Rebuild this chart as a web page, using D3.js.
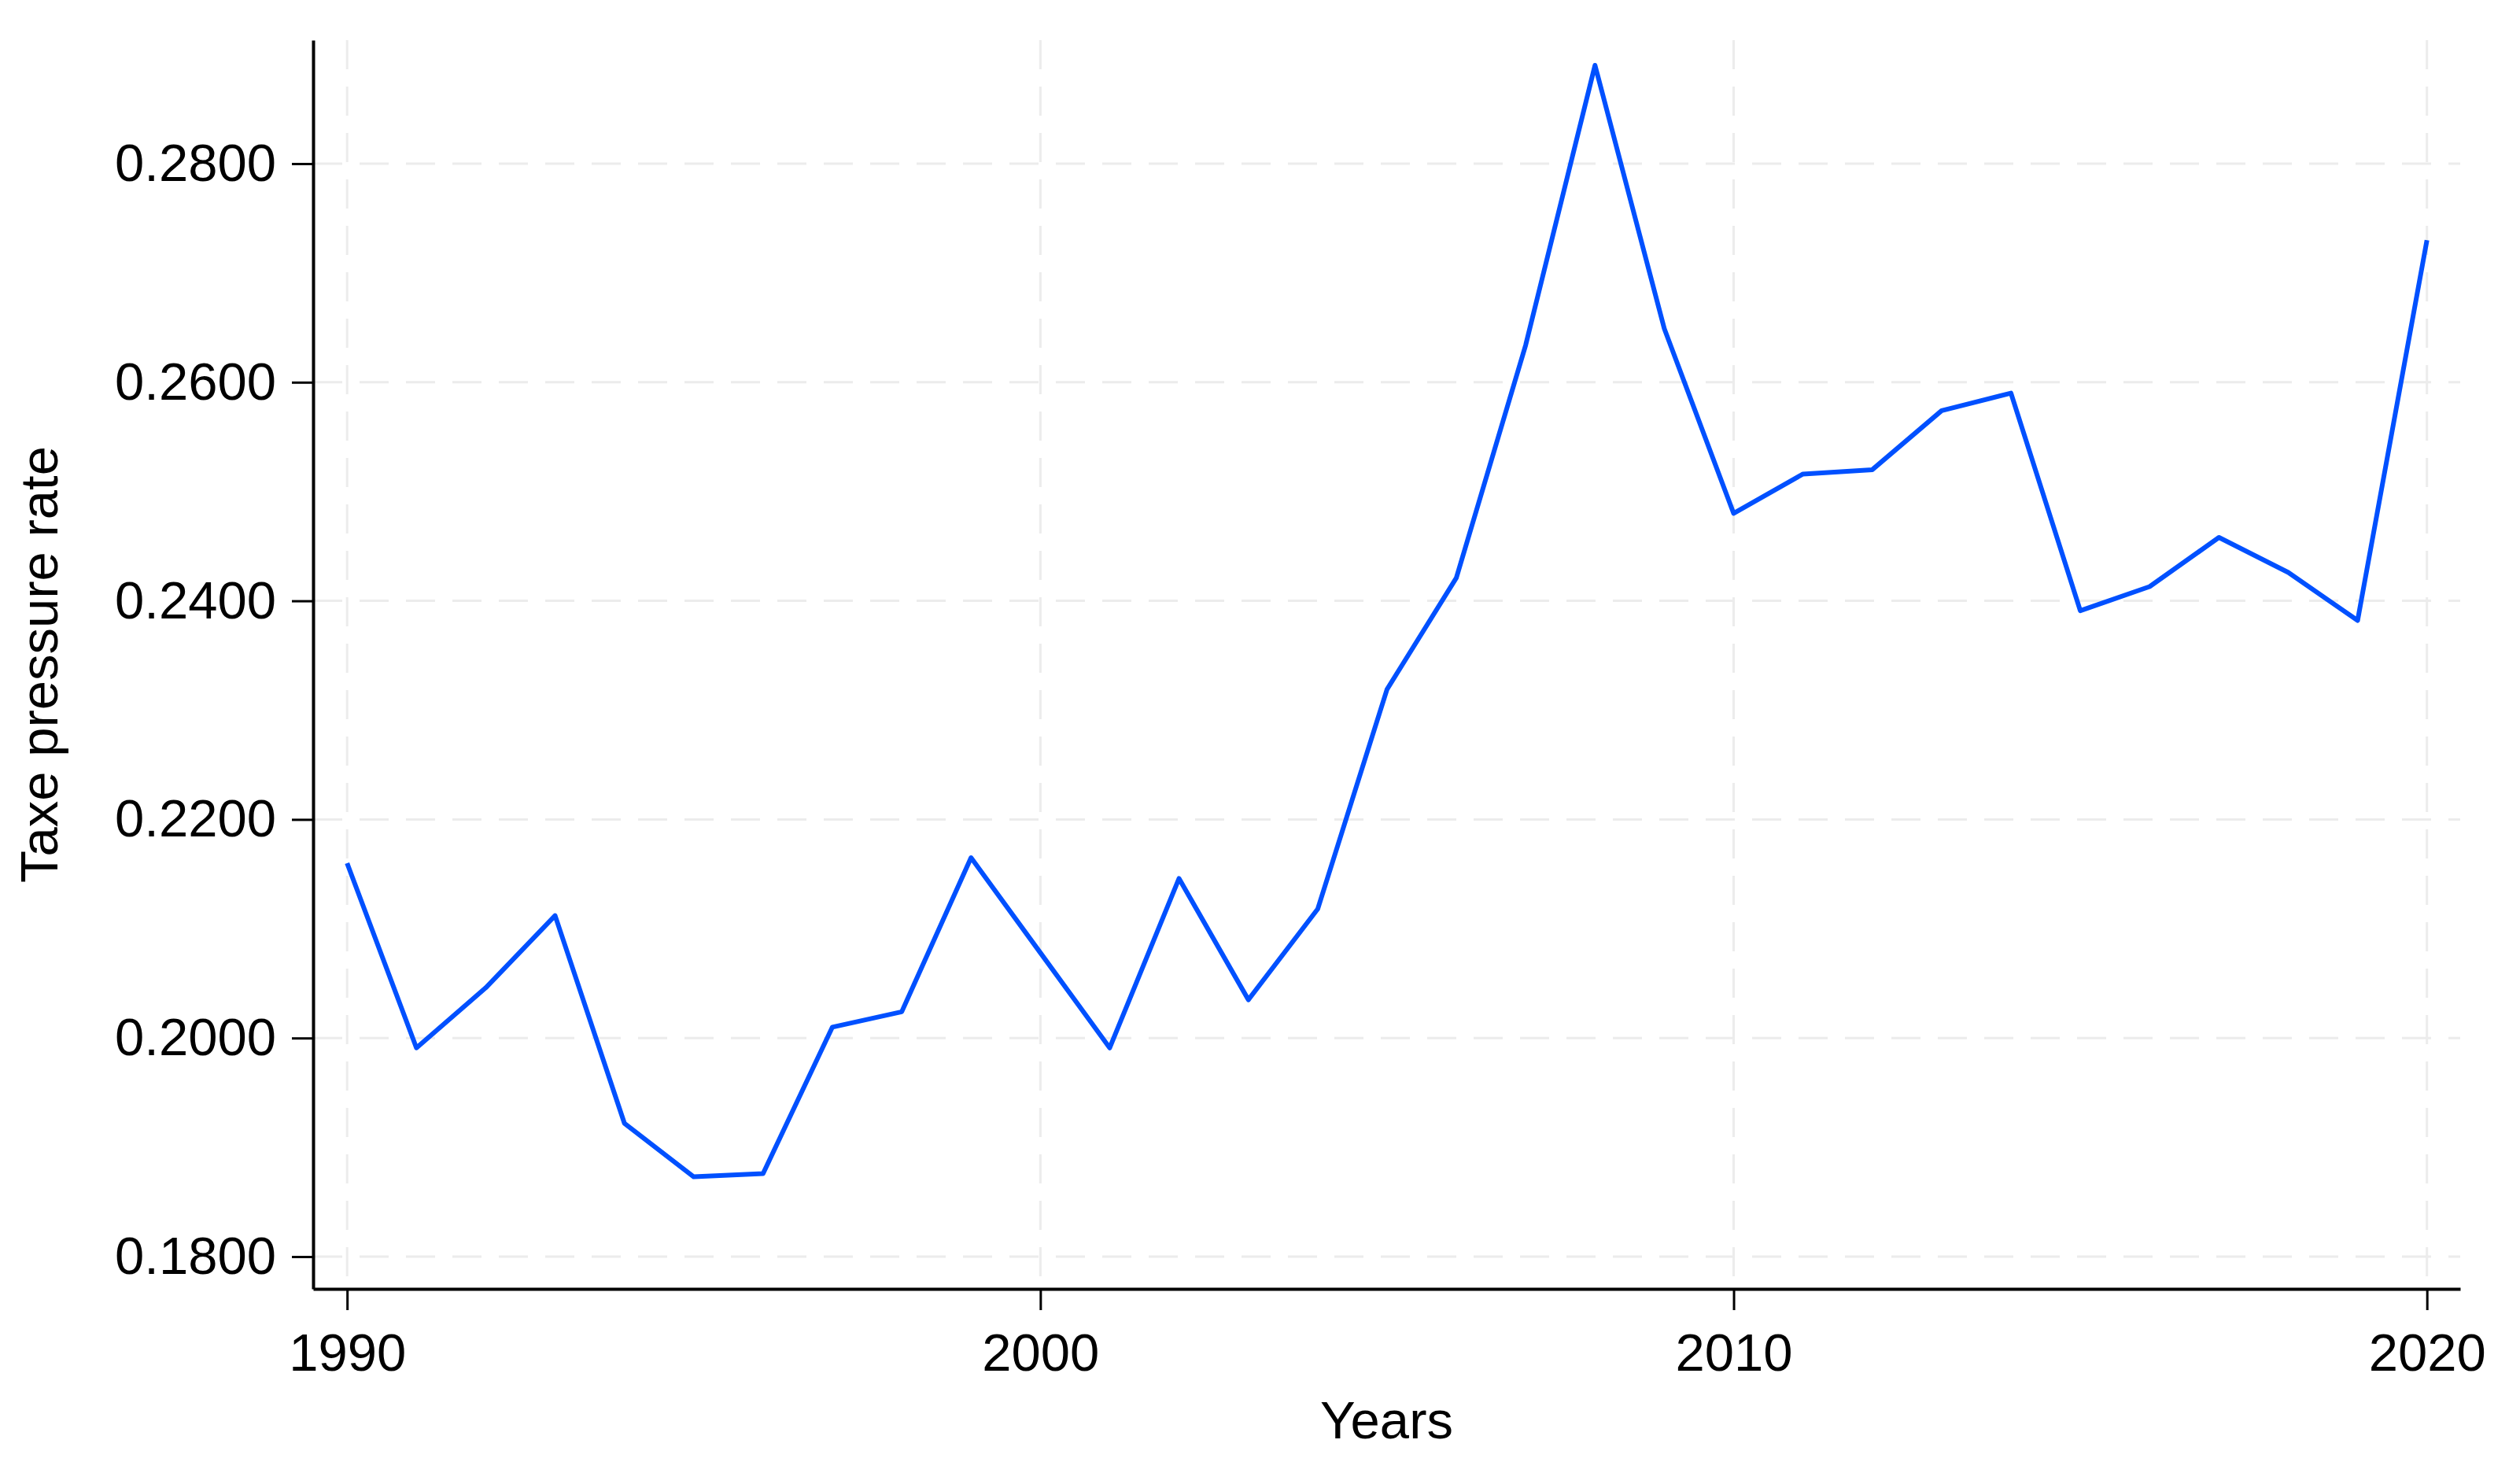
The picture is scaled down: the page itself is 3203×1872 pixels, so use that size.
<!DOCTYPE html>
<html><head><meta charset="utf-8">
<script src="https://cdn.jsdelivr.net/npm/d3@7"></script>
<style>
body{margin:0;background:#fff}
svg{display:block}
text{font-family:"Liberation Sans",Arial,Helvetica,sans-serif;fill:#000}
</style>
</head><body>
<svg id="chart" width="3203" height="1872"></svg>
<script>
// ---- data ----
const years = [1990,1991,1992,1993,1994,1995,1996,1997,1998,1999,2000,2001,2002,2003,2004,2005,2006,2007,2008,2009,2010,2011,2012,2013,2014,2015,2016,2017,2018,2019,2020];
const taxRate = [0.2160,0.1991,0.2046,0.2112,0.1922,0.1873,0.1876,0.2010,0.2024,0.2165,0.2078,0.1991,0.2146,0.2035,0.2118,0.2319,0.2421,0.2634,0.2890,0.2649,0.2480,0.2516,0.2520,0.2574,0.2590,0.2391,0.2413,0.2458,0.2426,0.2382,0.2730];
const yTicks = [0.18,0.20,0.22,0.24,0.26,0.28];
const xTicks = [1990,2000,2010,2020];
const xTitle = "Years";
const yTitle = "Taxe pressure rate";

(function () {
// ---- layout ----
const mLeft = 398, mRight = 3127, mTop = 51, mBottom = 1638;
const fontSize = 67;

const svg = d3.select("#chart");
const x = d3.scaleLinear().domain([1989.51, 2020.48]).range([mLeft, mRight]);
const y = d3.scaleLinear().domain([0.17705, 0.2913]).range([mBottom, mTop]);

// grid
const grid = svg.append("g");
grid.selectAll("line.h").data(yTicks).join("line").attr("class", "h")
  .attr("x1", mLeft).attr("x2", mRight)
  .attr("y1", d => y(d)).attr("y2", d => y(d))
  .attr("stroke", "#ececec").attr("stroke-width", 3)
  .attr("stroke-dasharray", "37,22");
grid.selectAll("line.v").data(xTicks).join("line").attr("class", "v")
  .attr("x1", d => x(d)).attr("x2", d => x(d))
  .attr("y1", mTop).attr("y2", mBottom)
  .attr("stroke", "#ececec").attr("stroke-width", 3)
  .attr("stroke-dasharray", "37,22");

// line
const data = years.map((yr, i) => [yr, taxRate[i]]);
svg.append("path").datum(data)
  .attr("fill", "none")
  .attr("stroke", "#0050ff")
  .attr("stroke-width", 6)
  .attr("stroke-linejoin", "round")
  .attr("d", d3.line().x(d => x(d[0])).y(d => y(d[1])));

// axes
const yAxis = svg.append("g").attr("transform", `translate(${mLeft},0)`)
  .call(d3.axisLeft(y).tickValues(yTicks).tickFormat(d3.format(".4f"))
    .tickSize(27).tickSizeOuter(0).tickPadding(20));
const xAxis = svg.append("g").attr("transform", `translate(0,${mBottom})`)
  .call(d3.axisBottom(x).tickValues(xTicks).tickFormat(d3.format("d"))
    .tickSize(27).tickSizeOuter(0).tickPadding(29));
[yAxis, xAxis].forEach(a => {
  a.select(".domain").attr("stroke", "#000").attr("stroke-width", 4);
  a.selectAll(".tick line").attr("stroke", "#000").attr("stroke-width", 3);
  a.selectAll(".tick text").attr("font-size", fontSize)
    .attr("font-family", '"Liberation Sans",Arial,sans-serif').attr("fill", "#000");
});

// titles
svg.append("text").attr("x", (mLeft + mRight) / 2).attr("y", 1828)
  .attr("text-anchor", "middle").attr("font-size", fontSize).text(xTitle);
svg.append("text").attr("transform", `translate(73,${(mTop + mBottom) / 2}) rotate(-90)`)
  .attr("text-anchor", "middle").attr("font-size", fontSize).text(yTitle);
})();
</script>
</body></html>
